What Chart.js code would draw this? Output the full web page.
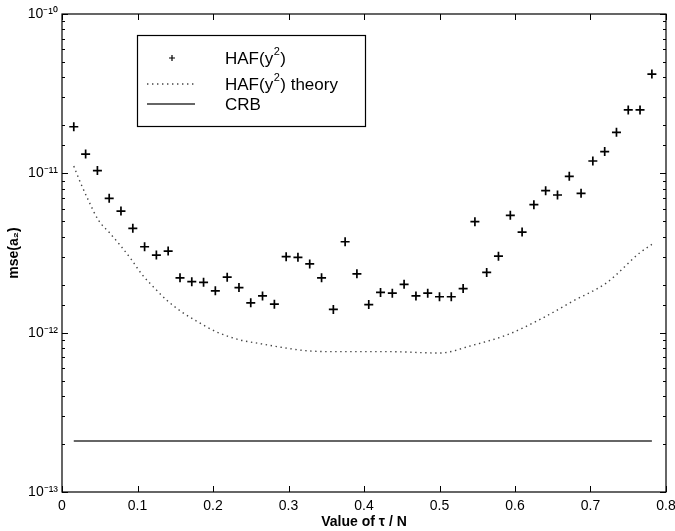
<!DOCTYPE html>
<html>
<head>
<meta charset="utf-8">
<script src="https://cdn.jsdelivr.net/npm/chart.js@4.4.1/dist/chart.umd.min.js"></script>
<style>
  html, body { margin: 0; padding: 0; background: #fff; }
  #wrap { width: 675px; height: 531px; }
</style>
</head>
<body>
<div id="wrap"><canvas id="mseChart" width="675" height="531"></canvas></div>
<script>
// HAF(y^2) simulation points, tau/N
const hafX = [0.0156, 0.0313, 0.0469, 0.0625, 0.0781, 0.0938, 0.1094, 0.125, 0.1406, 0.1563,
              0.1719, 0.1875, 0.2031, 0.2188, 0.2344, 0.25, 0.2656, 0.2813, 0.2969, 0.3125,
              0.3281, 0.3438, 0.3594, 0.375, 0.3906, 0.4063, 0.4219, 0.4375, 0.4531, 0.4688,
              0.4844, 0.5, 0.5156, 0.5313, 0.5469, 0.5625, 0.5781, 0.5938, 0.6094, 0.625,
              0.6406, 0.6563, 0.6719, 0.6875, 0.7031, 0.7188, 0.7344, 0.75, 0.7656, 0.7813];
const hafMse = [1.96e-11, 1.32e-11, 1.04e-11, 6.97e-12, 5.80e-12, 4.52e-12, 3.46e-12, 3.07e-12, 3.25e-12, 2.21e-12,
                2.09e-12, 2.07e-12, 1.83e-12, 2.23e-12, 1.92e-12, 1.54e-12, 1.70e-12, 1.51e-12, 3.00e-12, 2.97e-12,
                2.70e-12, 2.21e-12, 1.40e-12, 3.72e-12, 2.34e-12, 1.50e-12, 1.79e-12, 1.77e-12, 2.01e-12, 1.70e-12,
                1.77e-12, 1.68e-12, 1.68e-12, 1.89e-12, 4.97e-12, 2.39e-12, 3.02e-12, 5.45e-12, 4.28e-12, 6.36e-12,
                7.78e-12, 7.31e-12, 9.58e-12, 7.49e-12, 1.195e-11, 1.37e-11, 1.81e-11, 2.50e-11, 2.50e-11, 4.20e-11];

// theory curve
const theoryX = [0.0156, 0.0248, 0.0348, 0.0481, 0.0626, 0.0768, 0.0923, 0.1056, 0.1209, 0.1387,
                 0.1585, 0.1784, 0.2049, 0.2358, 0.26, 0.29, 0.324, 0.368, 0.434, 0.5,
                 0.5448, 0.589, 0.633, 0.677, 0.7215, 0.7656, 0.7813];
const theoryMse = [1.11e-11, 8.66e-12, 6.8e-12, 5.09e-12, 4.25e-12, 3.55e-12, 2.86e-12, 2.33e-12, 1.94e-12, 1.6e-12,
                   1.35e-12, 1.18e-12, 1.01e-12, 9.0e-13, 8.57e-13, 8.1e-13, 7.7e-13, 7.6e-13, 7.6e-13, 7.45e-13,
                   8.36e-13, 9.67e-13, 1.21e-12, 1.58e-12, 2.06e-12, 3.18e-12, 3.58e-12];

// Cramer-Rao bound
const crbX = [0.0156, 0.7813];
const crbMse = [2.09e-13, 2.09e-13];

const xTicks = [0, 0.1, 0.2, 0.3, 0.4, 0.5, 0.6, 0.7, 0.8];
const yDecades = [1e-13, 1e-12, 1e-11, 1e-10];
const legendNames = ['HAF(y', 'HAF(y', 'CRB'];
const legendTails = [')', ') theory', ''];

const FONT = '"Liberation Sans", Arial, Helvetica, sans-serif';
const SUP = { '-': '\u207B', '0': '\u2070', '1': '\u00B9', '2': '\u00B2', '3': '\u00B3' };

function toPoints(xs, ys) {
    return xs.map((x, i) => ({ x: x, y: ys[i] }));
}

function isDecade(v) {
    const l = Math.log10(v);
    return Math.abs(l - Math.round(l)) < 1e-6;
}

// inward ticks on all four sides + frame
const frameTicks = {
    id: 'frameTicks',
    afterDraw(chart) {
        const { ctx, chartArea: a, scales } = chart;
        ctx.save();
        ctx.strokeStyle = '#000';
        ctx.lineWidth = 1.2;
        ctx.strokeRect(a.left, a.top, a.right - a.left, a.bottom - a.top);
        ctx.lineWidth = 1;
        scales.x.ticks.forEach(t => {
            const px = Math.round(scales.x.getPixelForValue(t.value)) + 0.5;
            ctx.beginPath();
            ctx.moveTo(px, a.bottom); ctx.lineTo(px, a.bottom - 6);
            ctx.moveTo(px, a.top); ctx.lineTo(px, a.top + 6);
            ctx.stroke();
        });
        scales.y.ticks.forEach(t => {
            const py = Math.round(scales.y.getPixelForValue(t.value)) + 0.5;
            const len = isDecade(t.value) ? 6 : 3;
            ctx.beginPath();
            ctx.moveTo(a.left, py); ctx.lineTo(a.left + len, py);
            ctx.moveTo(a.right, py); ctx.lineTo(a.right - len, py);
            ctx.stroke();
        });
        ctx.restore();
    }
};

// boxed legend inside the plot, with superscript 2
const boxLegend = {
    id: 'boxLegend',
    afterDraw(chart) {
        const ctx = chart.ctx;
        const bx = 137, by = 35, bw = 228, bh = 91;
        ctx.save();
        ctx.fillStyle = '#fff';
        ctx.fillRect(bx, by, bw, bh);
        ctx.strokeStyle = '#000';
        ctx.lineWidth = 1.2;
        ctx.strokeRect(bx + 0.5, by + 0.5, bw, bh);
        const rows = [58, 84, 104];
        chart.data.datasets.forEach((ds, i) => {
            const y = rows[i];
            ctx.strokeStyle = ds.borderColor;
            ctx.lineWidth = ds.borderWidth;
            if (i === 0) {
                ctx.lineWidth = 1.2;
                ctx.beginPath();
                ctx.moveTo(172, y - 3); ctx.lineTo(172, y + 3);
                ctx.moveTo(169, y); ctx.lineTo(175, y);
                ctx.stroke();
            } else {
                ctx.setLineDash(ds.borderDash || []);
                ctx.beginPath();
                ctx.moveTo(147, y); ctx.lineTo(195, y);
                ctx.stroke();
                ctx.setLineDash([]);
            }
            ctx.fillStyle = '#000';
            ctx.textBaseline = 'middle';
            ctx.font = '17px ' + FONT;
            let tx = 225;
            ctx.fillText(legendNames[i], tx, y + 1);
            tx += ctx.measureText(legendNames[i]).width;
            if (i < 2) {
                ctx.font = '11px ' + FONT;
                ctx.fillText('2', tx + 0.5, y - 6);
                tx += ctx.measureText('2').width + 1;
                ctx.font = '17px ' + FONT;
                ctx.fillText(legendTails[i], tx, y + 1);
            }
        });
        ctx.restore();
    }
};

const ctx = document.getElementById('mseChart').getContext('2d');
const mseChart = new Chart(ctx, {
    type: 'scatter',
    data: {
        datasets: [{
            label: 'HAF(y\u00B2)',
            data: toPoints(hafX, hafMse),
            showLine: false,
            pointStyle: 'cross',
            pointRadius: 4.5,
            pointBorderWidth: 1.7,
            borderColor: '#000',
            backgroundColor: '#000',
            borderWidth: 1.7
        }, {
            label: 'HAF(y\u00B2) theory',
            data: toPoints(theoryX, theoryMse),
            showLine: true,
            pointRadius: 0,
            borderColor: '#444',
            borderWidth: 1.4,
            borderDash: [1.4, 3.6],
            cubicInterpolationMode: 'monotone'
        }, {
            label: 'CRB',
            data: toPoints(crbX, crbMse),
            showLine: true,
            pointRadius: 0,
            borderColor: '#333',
            borderWidth: 1.3
        }]
    },
    options: {
        responsive: false,
        animation: false,
        layout: { padding: { left: 0, right: 9, top: 14, bottom: 0 } },
        plugins: {
            legend: { display: false },
            tooltip: { enabled: false }
        },
        scales: {
            x: {
                type: 'linear',
                min: 0,
                max: 0.8,
                afterBuildTicks: scale => { scale.ticks = xTicks.map(v => ({ value: v })); },
                grid: { display: false, drawTicks: false },
                border: { display: false },
                ticks: {
                    color: '#000',
                    font: { family: FONT, size: 14 },
                    padding: 6,
                    maxRotation: 0,
                    autoSkip: false,
                    callback: v => String(Math.round(v * 10) / 10)
                },
                title: {
                    display: true,
                    text: 'Value of \u03C4 / N',
                    color: '#000',
                    font: { family: FONT, size: 14, weight: 'bold' },
                    padding: { top: 0, bottom: 0 }
                },
                afterFit: scale => {
                    scale.height = 39;
                    scale.paddingLeft = 0;
                    scale.paddingRight = 0;
                }
            },
            y: {
                type: 'logarithmic',
                min: yDecades[0],
                max: yDecades[yDecades.length - 1],
                grid: { display: false, drawTicks: false },
                border: { display: false },
                ticks: {
                    color: '#000',
                    font: { family: FONT, size: 14 },
                    padding: 4,
                    autoSkip: false,
                    callback: v => {
                        if (!isDecade(v)) return '';
                        const e = String(Math.round(Math.log10(v)));
                        return '10' + e.split('').map(c => SUP[c]).join('');
                    }
                },
                title: {
                    display: true,
                    text: 'mse(a\u2082)',
                    color: '#000',
                    font: { family: FONT, size: 14, weight: 'bold' },
                    padding: { top: 6, bottom: 0 }
                },
                afterFit: scale => {
                    scale.width = 62;
                    scale.paddingTop = 0;
                    scale.paddingBottom = 0;
                }
            }
        }
    },
    plugins: [frameTicks, boxLegend]
});
</script>
</body>
</html>
